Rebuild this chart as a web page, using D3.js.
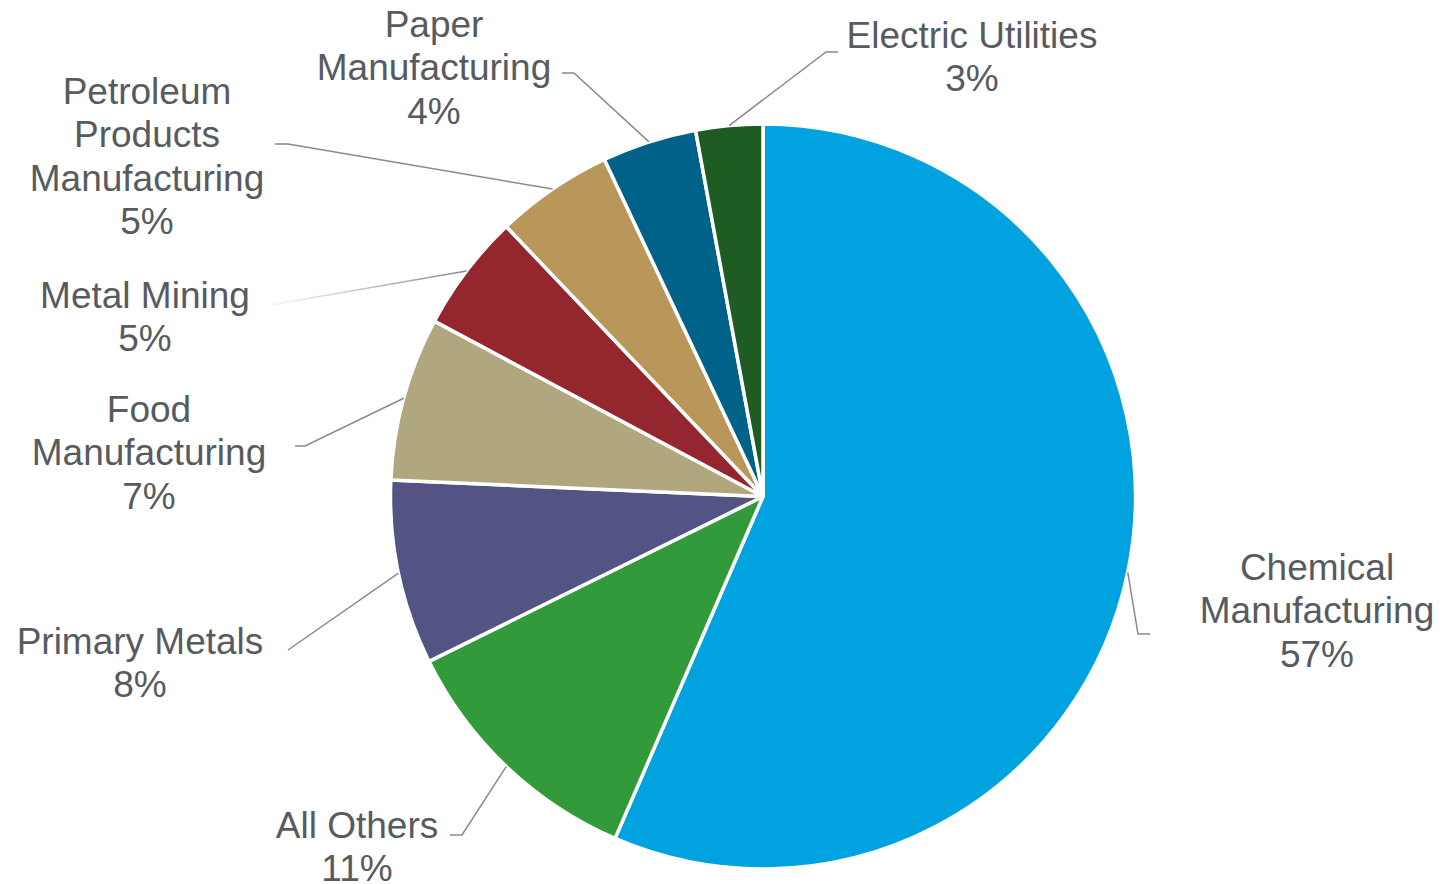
<!DOCTYPE html>
<html>
<head>
<meta charset="utf-8">
<script src="https://cdn.jsdelivr.net/npm/d3@7"></script>
<style>
  html, body { margin: 0; padding: 0; background: #ffffff; }
  svg { display: block; }
</style>
</head>
<body>
<script>
// Share of releases by industry sector (percent)
const categories = [
  "Chemical Manufacturing",
  "All Others",
  "Primary Metals",
  "Food Manufacturing",
  "Metal Mining",
  "Petroleum Products Manufacturing",
  "Paper Manufacturing",
  "Electric Utilities"
];
const values = [56.5, 11.2, 8.0, 7.1, 5.1, 5.1, 4.1, 2.9];

// How each category name is broken into lines in its label
const labelLines = [
  ["Chemical", "Manufacturing"],
  ["All Others"],
  ["Primary Metals"],
  ["Food", "Manufacturing"],
  ["Metal Mining"],
  ["Petroleum", "Products", "Manufacturing"],
  ["Paper", "Manufacturing"],
  ["Electric Utilities"]
];

const colors = ["#00a2df", "#339a3b", "#545484", "#b1a77e", "#94272d", "#b9965a", "#006288", "#1f5c23"];

// Label placement: text centre x, first baseline y, leader elbow and leader end
const labelLayout = [
  { x: 1317, y: 580, elbow: [1138, 634], end: [1150, 634] },
  { x: 357,  y: 838, elbow: [462, 835],  end: [450, 835] },
  { x: 140,  y: 654, elbow: [288, 650],  end: [288, 650] },
  { x: 149,  y: 422, elbow: [305, 446],  end: [295, 446] },
  { x: 145,  y: 308, elbow: [270, 305],  end: [270, 305], fade: true },
  { x: 147,  y: 104, elbow: [288, 144],  end: [275, 144] },
  { x: 434,  y: 37,  elbow: [574, 73],   end: [562, 73] },
  { x: 972,  y: 48,  elbow: [826, 52],   end: [838, 52] }
];

const W = 1440, H = 884;
const cx = 763, cy = 496.5, R = 372.5;
const lineHeight = 43.3;

const svg = d3.select("body").append("svg")
  .attr("width", W).attr("height", H);

const defs = svg.append("defs");

const total = d3.sum(values);
const data = categories.map((c, i) => ({ name: c, value: values[i], i }));

const pie = d3.pie().value(d => d.value).sort(null).startAngle(0).endAngle(2 * Math.PI);
const arcs = pie(data);

const arc = d3.arc().innerRadius(0).outerRadius(R);

const g = svg.append("g").attr("transform", `translate(${cx},${cy})`);

g.selectAll("path.slice")
  .data(arcs)
  .join("path")
  .attr("class", "slice")
  .attr("d", arc)
  .attr("fill", d => colors[d.data.i])
  .attr("stroke", "#ffffff")
  .attr("stroke-width", 3.5)
  .attr("stroke-linejoin", "round");

// Leader lines from the middle of each slice's rim to its label
const leaders = svg.append("g");
arcs.forEach(d => {
  const L = labelLayout[d.data.i];
  const mid = (d.startAngle + d.endAngle) / 2;
  const sx = cx + R * Math.sin(mid);
  const sy = cy - R * Math.cos(mid);
  let stroke = "#8a8a8a";
  if (L.fade) {
    const id = "fade" + d.data.i;
    const grad = defs.append("linearGradient")
      .attr("id", id)
      .attr("gradientUnits", "userSpaceOnUse")
      .attr("x1", sx).attr("y1", sy)
      .attr("x2", L.end[0]).attr("y2", L.end[1]);
    grad.append("stop").attr("offset", "0%").attr("stop-color", "#8a8a8a");
    grad.append("stop").attr("offset", "100%").attr("stop-color", "#8a8a8a").attr("stop-opacity", 0.05);
    stroke = `url(#${id})`;
  }
  leaders.append("path")
    .attr("d", d3.line()([[sx, sy], L.elbow, L.end]))
    .attr("fill", "none")
    .attr("stroke", stroke)
    .attr("stroke-width", 1.5);
});

// Category labels with rounded percentages
const labels = svg.append("g")
  .attr("font-family", "'Liberation Sans', Arial, Helvetica, sans-serif")
  .attr("font-size", 37)
  .attr("fill", "#575b5f")
  .attr("text-anchor", "middle");

arcs.forEach(d => {
  const i = d.data.i;
  const L = labelLayout[i];
  const pct = Math.round(d.data.value / total * 100) + "%";
  const lines = labelLines[i].concat([pct]);
  const t = labels.append("text").attr("x", L.x).attr("y", L.y);
  lines.forEach((s, k) => {
    t.append("tspan")
      .attr("x", L.x)
      .attr("y", L.y + k * lineHeight)
      .text(s);
  });
});
</script>
</body>
</html>
